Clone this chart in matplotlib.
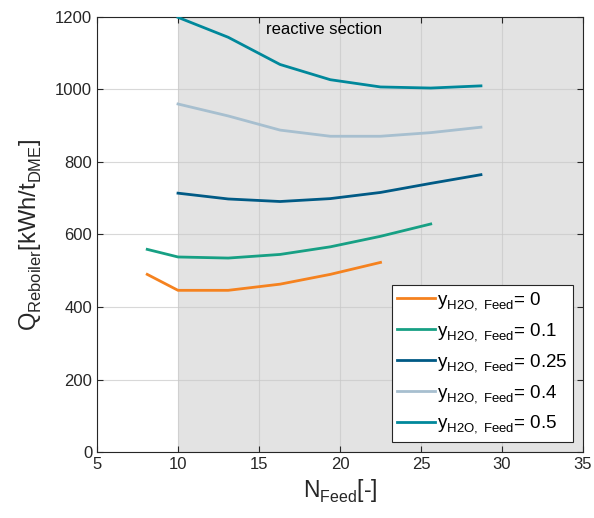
import matplotlib
matplotlib.use("Agg")
import matplotlib.pyplot as plt
try:
    import matplotlib._mathtext as _mt
    _mt.FontConstantsBase.sub1 = 0.45
    _mt.FontConstantsBase.sub2 = 0.6
except Exception:
    pass

plt.rcParams['font.family'] = ['Liberation Sans', 'DejaVu Sans']
plt.rcParams['mathtext.fontset'] = 'custom'
plt.rcParams['mathtext.rm'] = 'Liberation Sans'
plt.rcParams['mathtext.it'] = 'Liberation Sans'

x_0 = [8.1, 10, 13.1, 16.3, 19.4, 22.5]
q_0 = [490, 446, 446, 463, 490, 523]
x_01 = [8.1, 10, 13.1, 16.3, 19.4, 22.5, 25.6]
q_01 = [559, 538, 535, 545, 566, 595, 629]
x_025 = [10, 13.1, 16.3, 19.4, 22.5, 25.6, 28.7]
q_025 = [714, 698, 691, 699, 716, 741, 765]
x_04 = [10, 13.1, 16.3, 19.4, 22.5, 25.6, 28.7]
q_04 = [960, 927, 888, 871, 871, 881, 896]
x_05 = [10, 13.1, 16.3, 19.4, 22.5, 25.6, 28.7]
q_05 = [1199, 1144, 1069, 1027, 1007, 1004, 1010]

labels = ['0', '0.1', '0.25', '0.4', '0.5']
colors = ['#F5821F', '#17A084', '#005A85', '#A7BFCF', '#00889B']

fig = plt.figure(figsize=(5.94, 5.18), dpi=100)
ax = fig.add_axes([0.1633, 0.1274, 0.8182, 0.8398])

ax.axvspan(10, 35, color='#E3E3E3', zorder=0, lw=0)
ax.grid(True, color='#C8C8C8', lw=0.8, alpha=0.7, zorder=1)

series = [(x_0, q_0), (x_01, q_01), (x_025, q_025), (x_04, q_04), (x_05, q_05)]
for (xs, qs), lab, c in zip(series, labels, colors):
    ax.plot(xs, qs, color=c, lw=2, label=r'$\mathregular{y_{H2O,\ Feed}}$= ' + lab, zorder=3)

ax.text(19.0, 1166, 'reactive section', ha='center', va='center', fontsize=12)

ax.set_xlim(5, 35)
ax.set_ylim(0, 1200)
ax.set_xticks([5, 10, 15, 20, 25, 30, 35])
ax.set_yticks([0, 200, 400, 600, 800, 1000, 1200])
ax.tick_params(direction='in', top=True, right=True, labelsize=12, length=4, colors='#262626')
for s in ax.spines.values():
    s.set_color('#262626')
    s.set_linewidth(0.8)

ax.set_xlabel(r'$\mathregular{N_{Feed}[\text{-}]}$', fontsize=16.5, color='#262626')
ax.set_ylabel(r'$\mathregular{Q_{Reboiler}[kWh/t_{DME}]}$', fontsize=17, color='#262626', labelpad=8)

leg = ax.legend(loc='lower right', fontsize=13.5, frameon=True, fancybox=False,
                edgecolor='#262626', framealpha=1, handlelength=2.0,
                handletextpad=0.1, borderpad=0.3, labelspacing=0.45,
                borderaxespad=0, bbox_to_anchor=(0.979, 0.023))
leg.get_frame().set_linewidth(0.8)

fig.savefig('out.png', dpi=100)
